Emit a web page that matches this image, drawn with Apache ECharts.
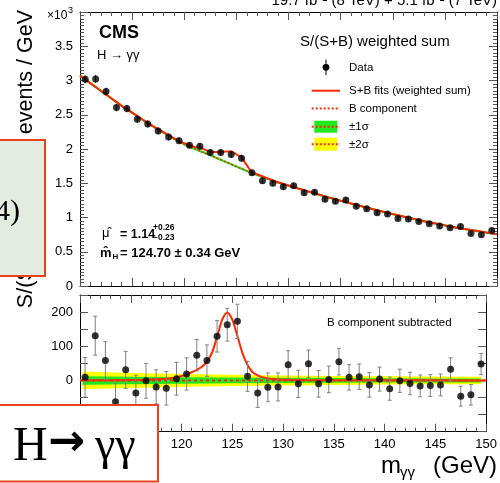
<!DOCTYPE html>
<html>
<head>
<meta charset="utf-8">
<script src="https://cdn.jsdelivr.net/npm/echarts@6/dist/echarts.min.js"></script>
<style>
  html, body { margin: 0; padding: 0; background: #fff; }
  #chart { width: 500px; height: 483px; }
</style>
</head>
<body>
<div id="chart"></div>
<script>
// Diphoton mass bins (GeV), 1 GeV wide
const massBins = [110.5, 111.5, 112.5, 113.5, 114.5, 115.5, 116.5, 117.5, 118.5, 119.5,
                  120.5, 121.5, 122.5, 123.5, 124.5, 125.5, 126.5, 127.5, 128.5, 129.5,
                  130.5, 131.5, 132.5, 133.5, 134.5, 135.5, 136.5, 137.5, 138.5, 139.5,
                  140.5, 141.5, 142.5, 143.5, 144.5, 145.5, 146.5, 147.5, 148.5, 149.5];

// S/(S+B) weighted events / GeV, in units of 10^3
const dataWeighted = [3.017, 3.022, 2.840, 2.605, 2.590, 2.435, 2.366, 2.264, 2.176, 2.122,
                      2.055, 2.040, 1.948, 1.950, 1.920, 1.865, 1.652, 1.535, 1.500, 1.448,
                      1.462, 1.360, 1.370, 1.268, 1.239, 1.254, 1.166, 1.127, 1.069, 1.050,
                      0.987, 0.977, 0.943, 0.908, 0.875, 0.850, 0.870, 0.768, 0.748, 0.812];

// Background-subtracted weighted events / GeV
const dataSubtracted = [9, 131, 58, -62, 31, -37, -1, -19, -23, 5,
                        19, 74, 58, 129, 163, 173, 12, -37, -20, -19,
                        46, -10, 49, -10, 3, 55, 9, 11, -13, 4,
                        -24, -1, -9, -16, -15, -13, 33, -46, -42, 48];

// Statistical uncertainty per bin (events / GeV)
const dataError = [58, 57, 55, 54, 54, 52, 51, 50, 49, 48,
                   47, 46, 46, 46, 48, 50, 44, 42, 42, 41,
                   41, 40, 40, 39, 39, 39, 37, 37, 36, 35,
                   34, 34, 33, 32, 32, 32, 33, 29, 30, 31];

// Background fit, units of 10^3
const bkgMass = [110, 111, 112, 113, 114, 115, 116, 117, 118, 119, 120, 121, 122, 123, 124, 125,
                 126, 127, 128, 129, 130, 131, 132, 133, 134, 135, 136, 137, 138, 139, 140,
                 141, 142, 143, 144, 145, 146, 147, 148, 149, 150];
const bkgFit = [3.07, 2.96, 2.85, 2.74, 2.63, 2.53, 2.43, 2.33, 2.24, 2.15, 2.07, 2.00, 1.94, 1.875, 1.81, 1.745,
                1.68, 1.62, 1.565, 1.51, 1.465, 1.42, 1.375, 1.33, 1.287, 1.245, 1.205, 1.165, 1.125, 1.088, 1.05,
                1.015, 0.98, 0.945, 0.915, 0.885, 0.855, 0.83, 0.805, 0.78, 0.757];

// Signal + background fit, units of 10^3
const sbMass = [110, 111, 112, 113, 114, 115, 116, 117, 118, 119, 120, 121, 121.5, 122.5, 123.5, 124.5,
                125.5, 126.5, 127, 128, 129, 130, 131, 132, 133, 134, 135, 136, 137, 138, 139, 140,
                141, 142, 143, 144, 145, 146, 147, 148, 149, 150];
const sbFit = [3.07, 2.96, 2.85, 2.74, 2.63, 2.53, 2.43, 2.335, 2.245, 2.158, 2.083, 2.03, 2.02, 1.958, 1.958, 1.968,
               1.876, 1.652, 1.632, 1.572, 1.514, 1.467, 1.42, 1.375, 1.33, 1.287, 1.245, 1.205, 1.165, 1.125, 1.088, 1.05,
               1.015, 0.98, 0.945, 0.915, 0.885, 0.855, 0.83, 0.805, 0.78, 0.757];

// Signal component after background subtraction (events / GeV)
const sigMass = [110, 112, 114, 116, 117, 118, 119, 119.5, 120, 120.5, 121, 121.5, 122, 122.5, 123, 123.5,
                 124, 124.5, 125, 125.5, 126, 126.5, 127, 127.5, 128, 129, 130, 132, 135, 140, 145, 150];
const sigFit = [0.5, 0.6, 0.8, 1.5, 2.5, 4, 6.5, 9, 13, 18, 24, 31, 40, 55, 81, 127,
                177, 199, 178, 130, 80, 45, 24, 15, 9, 4, 2, 1, 0.5, 0.3, 0.2, 0.1];

// Background component after subtraction
const bkgSubMass = [110, 150];
const bkgSub = [0, 0];

// Background uncertainty bands (half widths, events / GeV)
const bandMass = [110.25, 115, 120, 125, 130, 135, 140, 145, 149.5];
const band2Sigma = [26, 22, 19, 16.5, 14.5, 13, 12, 11.5, 11];
const band1Sigma = [12.5, 11, 9.5, 8.5, 7.5, 6.8, 6.3, 6, 5.8];

// Tick labels
const xTickLabels = ['110', '115', '120', '125', '130', '135', '140', '145', '150'];
const yTopTickLabels = ['0', '0.5', '1', '1.5', '2', '2.5', '3', '3.5'];
const yBottomTickLabels = ['-100', '0', '100', '200'];

const RED = '#ff2a00';
const GREEN = '#1ee81e';
const YELLOW = '#ffff00';
const SANS = '"Liberation Sans", Arial, Helvetica, sans-serif';
const SERIF = '"Liberation Serif", "Times New Roman", serif';
const TICK = '#555';

function xAxis(grid, pos, showLabels) {
  return {
    type: 'value', gridIndex: grid, position: pos, min: 110, max: 150, interval: 5,
    axisLine: { show: true, onZero: false, lineStyle: { color: '#000', width: 1 } },
    axisTick: { show: true, inside: true, length: 8, lineStyle: { color: TICK } },
    minorTick: { show: true, splitNumber: 5, length: 4, lineStyle: { color: TICK } },
    splitLine: { show: false }, minorSplitLine: { show: false },
    axisLabel: {
      show: showLabels, margin: 6, color: '#000', fontFamily: SANS, fontSize: 13,
      showMinLabel: true, showMaxLabel: true,
      formatter: v => xTickLabels.includes(String(v)) ? String(v) : ''
    }
  };
}

function yAxis(grid, pos, showLabels, min, max, interval, minor, labels) {
  return {
    type: 'value', gridIndex: grid, position: pos, min, max, interval,
    axisLine: { show: true, onZero: false, lineStyle: { color: '#000', width: 1 } },
    axisTick: { show: true, inside: true, length: 8, lineStyle: { color: TICK } },
    minorTick: { show: minor > 0, splitNumber: minor || 1, length: 4, lineStyle: { color: TICK } },
    splitLine: { show: false }, minorSplitLine: { show: false },
    axisLabel: {
      show: showLabels, margin: 7, color: '#000', fontFamily: SANS, fontSize: 13,
      formatter: v => labels.includes(String(v)) ? String(v) : ''
    }
  };
}

function errorBars(xi, yi, values, errors, scale, color, cap) {
  return {
    type: 'custom', xAxisIndex: xi, yAxisIndex: yi, silent: true, z: 4,
    data: massBins.map((m, i) => [m, values[i], errors[i] * scale]),
    renderItem: (params, api) => {
      const x = api.value(0), y = api.value(1), e = api.value(2);
      const hi = api.coord([x, y + e]);
      const lo = api.coord([x, y - e]);
      const children = [{ type: 'line', shape: { x1: hi[0], y1: hi[1], x2: lo[0], y2: lo[1] },
                          style: { stroke: color, lineWidth: 1 } }];
      if (cap) {
        children.push({ type: 'line', shape: { x1: hi[0] - cap, y1: hi[1], x2: hi[0] + cap, y2: hi[1] },
                        style: { stroke: color, lineWidth: 1 } });
        children.push({ type: 'line', shape: { x1: lo[0] - cap, y1: lo[1], x2: lo[0] + cap, y2: lo[1] },
                        style: { stroke: color, lineWidth: 1 } });
      }
      return { type: 'group', children };
    }
  };
}

function band(halfWidths, color, z) {
  return {
    type: 'custom', xAxisIndex: 2, yAxisIndex: 2, silent: true, z,
    data: bandMass.map((m, i) => [m, halfWidths[i]]),
    renderItem: (params, api) => {
      if (params.dataIndex !== 0) return null;
      const upper = bandMass.map((m, i) => api.coord([m, halfWidths[i]]));
      const lower = bandMass.map((m, i) => api.coord([m, -halfWidths[i]])).reverse();
      return { type: 'polygon', shape: { points: upper.concat(lower) }, style: { fill: color } };
    }
  };
}

function lineSeries(xi, yi, xs, ys, color, width, dash, smooth, z) {
  return {
    type: 'line', xAxisIndex: xi, yAxisIndex: yi, data: xs.map((m, i) => [m, ys[i]]),
    showSymbol: false, symbol: 'none', smooth: smooth, silent: true, z,
    lineStyle: { color, width, type: dash || 'solid' }
  };
}

function text(str, x, y, size, opts = {}) {
  return {
    type: 'text', x, y, rotation: opts.rotation || 0, z: opts.z || 50, silent: true,
    style: {
      text: str, fill: opts.color || '#000',
      font: (opts.bold ? 'bold ' : '') + size + 'px ' + (opts.family || SANS),
      textAlign: opts.align || 'left', textVerticalAlign: opts.valign || 'middle'
    }
  };
}

const legendX1 = 311.7, legendX2 = 340;
const graphics = [
  // lumi / energy label
  text('19.7 fb⁻¹ (8 TeV) + 5.1 fb⁻¹ (7 TeV)', 497, 8, 15, { align: 'right', valign: 'bottom' }),
  // axis multiplier
  text('×10', 47, 15.5, 12),
  text('3', 68, 10.5, 9),
  text('CMS', 99, 33.5, 18, { bold: true }),
  text('H → γγ', 97, 55.5, 13),
  text('S/(S+B) weighted sum', 300, 41.5, 15),
  // legend entries
  { type: 'line', z: 50, shape: { x1: 326, y1: 59.5, x2: 326, y2: 75 }, style: { stroke: '#000', lineWidth: 1 } },
  { type: 'circle', z: 50, shape: { cx: 326, cy: 67.3, r: 3.4 }, style: { fill: '#000' } },
  text('Data', 349, 67.5, 11.5),
  { type: 'line', z: 50, shape: { x1: legendX1, y1: 90.7, x2: legendX2, y2: 90.7 }, style: { stroke: RED, lineWidth: 2 } },
  text('S+B fits (weighted sum)', 349, 90.7, 11.5),
  { type: 'line', z: 50, shape: { x1: legendX1, y1: 108.5, x2: legendX2, y2: 108.5 }, style: { stroke: RED, lineWidth: 2, lineDash: [2, 2] } },
  text('B component', 349, 108.5, 11.5),
  { type: 'rect', z: 50, shape: { x: 314.3, y: 120.7, width: 23, height: 12 }, style: { fill: GREEN } },
  { type: 'line', z: 51, shape: { x1: legendX1, y1: 126.7, x2: legendX2, y2: 126.7 }, style: { stroke: RED, lineWidth: 2, lineDash: [2, 2] } },
  text('±1σ', 349, 126.7, 11.5),
  { type: 'rect', z: 50, shape: { x: 314.3, y: 137.7, width: 23, height: 13 }, style: { fill: YELLOW } },
  { type: 'line', z: 51, shape: { x1: legendX1, y1: 144.3, x2: legendX2, y2: 144.3 }, style: { stroke: RED, lineWidth: 2, lineDash: [2, 2] } },
  text('±2σ', 349, 144.5, 11.5),
  // fit results
  text('μ̂', 102, 233, 13),
  text('= 1.14', 120, 234.5, 12.5, { bold: true }),
  text('+0.26', 153, 227.5, 8.5, { bold: true }),
  text('−0.23', 153, 238, 8.5, { bold: true }),
  text('m̂', 100, 253, 13, { bold: true }),
  text('H', 112.5, 257, 8, { bold: true }),
  text('= 124.70 ± 0.34 GeV', 120, 253, 13, { bold: true }),
  text('B component subtracted', 327, 323, 11.5),
  // axis titles
  text('S/(S+B) weighted events / GeV', 26, 10, 21.5, { align: 'right', rotation: Math.PI / 2 }),
  text('m', 381, 466, 24),
  text('γγ', 400, 473, 15),
  text('(GeV)', 497, 466, 24, { align: 'right' }),
  // annotation boxes
  { type: 'rect', z: 100, shape: { x: -3, y: 140, width: 48, height: 136 }, style: { fill: '#e4ece1', stroke: '#e8431f', lineWidth: 2 } },
  text('4)', 20, 212, 30, { family: SERIF, align: 'right', z: 101 }),
  { type: 'rect', z: 100, shape: { x: -3, y: 405, width: 161, height: 76.5 }, style: { fill: '#ffffff', stroke: '#e8431f', lineWidth: 2 } },
  text('H', 13, 447, 48, { family: SERIF, z: 101 }),
  text('→', 48, 444, 44, { family: '"DejaVu Sans", sans-serif', bold: true, z: 101 }),
  text('γγ', 95, 447, 46, { family: SERIF, z: 101 })
];

const chart = echarts.init(document.getElementById('chart'), null, { renderer: 'canvas' });
chart.setOption({
  animation: false,
  backgroundColor: '#fff',
  grid: [
    { left: 80, top: 12, width: 417, height: 274, containLabel: false },
    { left: 80, top: 295, width: 416.5, height: 136.7, containLabel: false }
  ],
  xAxis: [xAxis(0, 'bottom', false), xAxis(0, 'top', false), xAxis(1, 'bottom', true), xAxis(1, 'top', false)],
  yAxis: [
    yAxis(0, 'left', true, 0, 4, 0.5, 10, yTopTickLabels),
    yAxis(0, 'right', false, 0, 4, 0.5, 10, yTopTickLabels),
    yAxis(1, 'left', true, -150, 250, 50, 0, yBottomTickLabels),
    yAxis(1, 'right', false, -150, 250, 50, 0, yBottomTickLabels)
  ],
  series: [
    // upper panel
    lineSeries(0, 0, bkgMass, bkgFit, GREEN, 2.2, 'solid', 0.2, 2),
    lineSeries(0, 0, bkgMass, bkgFit, RED, 1.5, [2, 2], 0.2, 2),
    lineSeries(0, 0, sbMass, sbFit, RED, 2, 'solid', false, 3),
    errorBars(0, 0, dataWeighted, dataError, 0.001, '#000', 0),
    { type: 'scatter', xAxisIndex: 0, yAxisIndex: 0, symbolSize: 7, silent: true, z: 5,
      itemStyle: { color: '#000' }, data: massBins.map((m, i) => [m, dataWeighted[i]]) },
    // lower panel
    band(band2Sigma, YELLOW, 1),
    band(band1Sigma, GREEN, 1),
    lineSeries(2, 2, bkgSubMass, bkgSub, RED, 2, [3, 3], false, 2),
    lineSeries(2, 2, sigMass, sigFit, RED, 2, 'solid', 0.3, 3),
    errorBars(2, 2, dataSubtracted, dataError, 1, '#808080', 2),
    { type: 'scatter', xAxisIndex: 2, yAxisIndex: 2, symbolSize: 7, silent: true, z: 5,
      itemStyle: { color: '#000' }, data: massBins.map((m, i) => [m, dataSubtracted[i]]) }
  ],
  graphic: { elements: graphics }
});
</script>
</body>
</html>
